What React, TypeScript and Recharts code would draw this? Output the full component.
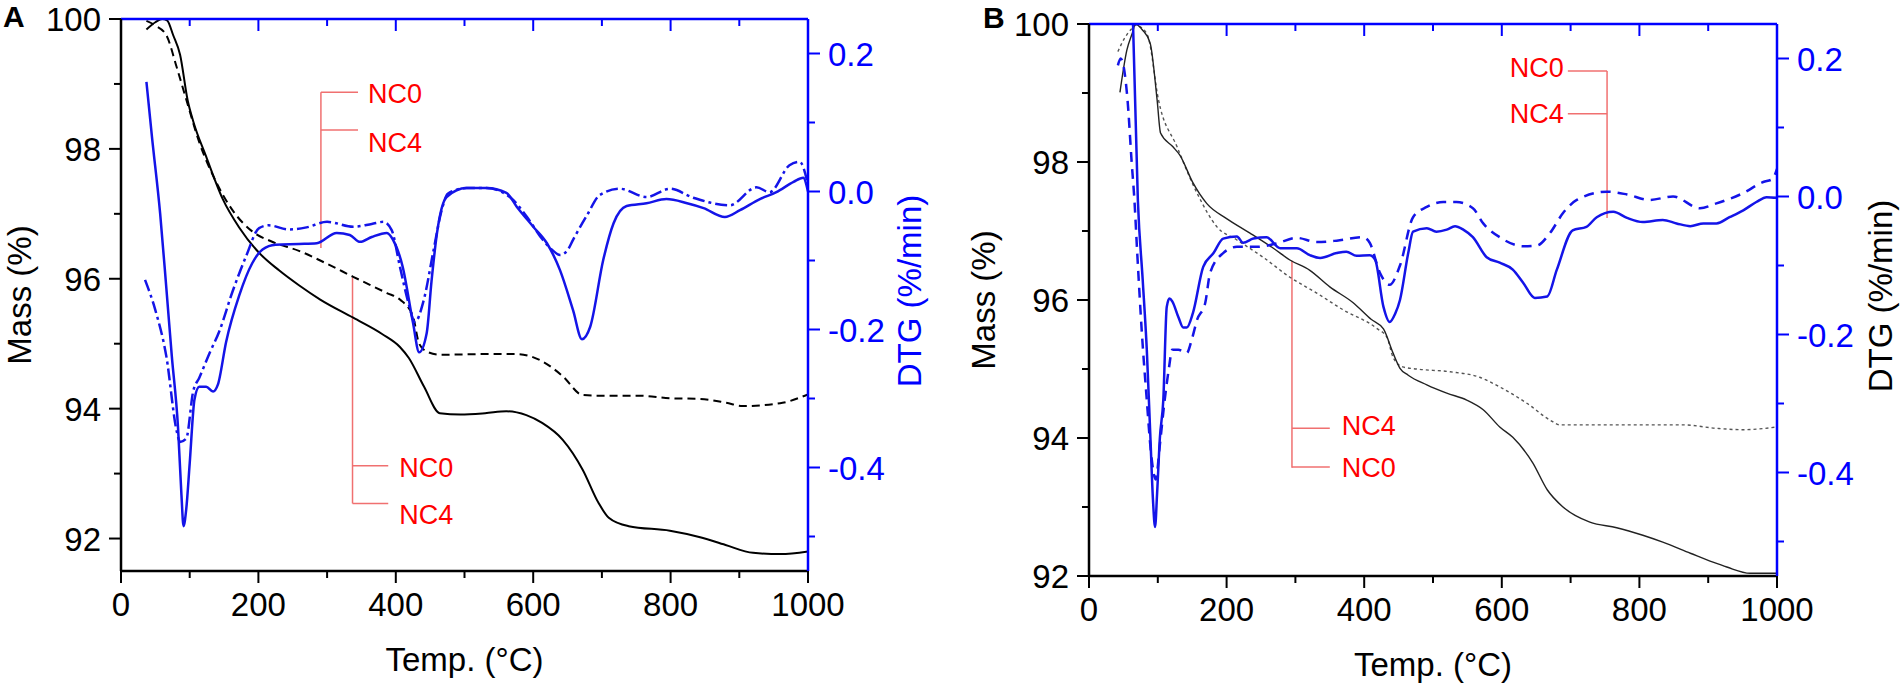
import React from "react";
import { LineChart, Line, XAxis, YAxis, ReferenceLine } from "recharts";

type Pt = [number, number];

// ---- Panel A: [temp °C, value] ----
const A_TG_NC0: Pt[] = [
  [37, 99.84], [50, 99.95], [60, 100], [67, 99.98], [76, 99.75], [86, 99.45], [97, 98.75], [105, 98.43],
  [124, 97.88], [148, 97.23], [172, 96.79], [201, 96.4], [230, 96.13], [259, 95.9], [290, 95.68], [338, 95.4],
  [380, 95.15], [406, 94.95], [419, 94.78], [441, 94.34], [464, 93.93], [494, 93.91], [530, 93.93], [561, 93.96],
  [590, 93.9], [613, 93.78], [643, 93.52], [672, 93.06], [695, 92.55], [710, 92.32], [739, 92.19], [799, 92.12],
  [843, 92.02], [880, 91.9], [920, 91.78], [960, 91.76], [1000, 91.8],
];
const A_TG_NC4: Pt[] = [
  [37, 99.97], [50, 99.9], [66, 99.75], [81, 99.26], [95, 98.76], [114, 98.1], [138, 97.5], [162, 97.06],
  [191, 96.73], [220, 96.57], [259, 96.43], [300, 96.23], [338, 96.03], [387, 95.78], [406, 95.68], [425, 95.42],
  [434, 95.0], [445, 94.88], [464, 94.83], [531, 94.84], [576, 94.84], [613, 94.73], [643, 94.5], [672, 94.21],
  [695, 94.2], [754, 94.2], [799, 94.16], [843, 94.15], [881, 94.09], [905, 94.04], [963, 94.09], [988, 94.17],
  [1000, 94.22],
];
const A_DTG_NC0: Pt[] = [
  [37, 0.159], [45, 0.08], [57, -0.032], [66, -0.14], [74, -0.239], [83, -0.342], [88, -0.44], [91, -0.485],
  [95, -0.46], [100, -0.394], [107, -0.301], [114, -0.283], [124, -0.283], [134, -0.29], [141, -0.28], [153, -0.218],
  [172, -0.151], [191, -0.104], [206, -0.084], [225, -0.077], [259, -0.076], [285, -0.075], [314, -0.06],
  [333, -0.063], [348, -0.073], [365, -0.066], [387, -0.06], [396, -0.07], [410, -0.109], [425, -0.19],
  [434, -0.233], [445, -0.205], [452, -0.13], [460, -0.06], [474, -0.008], [503, 0.005], [532, 0.005],
  [561, -0.002], [576, -0.022], [600, -0.051], [620, -0.075], [639, -0.114], [658, -0.172], [671, -0.214],
  [683, -0.196], [702, -0.099], [717, -0.046], [736, -0.021], [765, -0.017], [794, -0.011], [824, -0.017],
  [848, -0.024], [879, -0.037], [901, -0.027], [930, -0.011], [954, -0.001], [979, 0.014], [993, 0.02], [1000, 0.0],
];
const A_DTG_NC4: Pt[] = [
  [35, -0.128], [50, -0.172], [66, -0.239], [81, -0.347], [86, -0.363], [95, -0.358], [105, -0.29], [114, -0.27],
  [129, -0.234], [143, -0.203], [162, -0.146], [182, -0.094], [201, -0.053], [215, -0.049], [244, -0.055],
  [270, -0.052], [300, -0.044], [338, -0.051], [365, -0.047], [382, -0.044], [394, -0.056], [406, -0.109],
  [418, -0.16], [428, -0.189], [440, -0.16], [455, -0.085], [466, -0.03], [476, -0.003], [503, 0.005], [532, 0.005],
  [566, -0.008], [591, -0.037], [614, -0.07], [628, -0.085], [639, -0.092], [650, -0.085], [658, -0.07],
  [678, -0.035], [697, -0.005], [726, 0.004], [765, -0.008], [799, 0.004], [833, -0.009], [886, -0.02],
  [925, 0.006], [944, -0.001], [973, 0.038], [988, 0.043], [1000, 0.01],
];

// ---- Panel B ----
const B_TG_NC0: Pt[] = [
  [45, 99.01], [55, 99.62], [64, 99.9], [67, 100], [78, 99.91], [89, 99.72], [99, 98.9], [104, 98.42],
  [122, 98.22], [132, 98.1], [151, 97.7], [171, 97.4], [200, 97.18], [234, 96.97], [268, 96.75], [292, 96.58],
  [321, 96.43], [350, 96.19], [384, 95.96], [410, 95.72], [428, 95.58], [442, 95.23], [452, 95.01], [464, 94.91],
  [491, 94.77], [520, 94.65], [549, 94.55], [573, 94.41], [597, 94.16], [616, 94.01], [645, 93.64], [666, 93.25],
  [689, 93.0], [728, 92.78], [767, 92.7], [805, 92.59], [834, 92.49], [874, 92.33], [907, 92.2], [927, 92.13],
  [961, 92.04], [1000, 92.04],
];
const B_TG_NC4: Pt[] = [
  [42, 99.6], [52, 99.8], [62, 99.93], [68, 99.98], [76, 99.95], [86, 99.81], [101, 98.9], [128, 98.22],
  [157, 97.55], [186, 97.06], [215, 96.87], [253, 96.62], [292, 96.33], [331, 96.1], [369, 95.86], [418, 95.59],
  [433, 95.46], [442, 95.17], [456, 95.03], [476, 95.0], [525, 94.96], [568, 94.88], [597, 94.74], [637, 94.5],
  [670, 94.26], [685, 94.19], [767, 94.19], [864, 94.19], [912, 94.14], [951, 94.12], [1000, 94.16],
];
const B_DTG_NC0: Pt[] = [
  [64, 0.25], [71, -0.005], [78, -0.12], [84, -0.222], [89, -0.343], [93, -0.44], [96, -0.479], [99, -0.43],
  [103, -0.35], [108, -0.295], [113, -0.16], [117, -0.148], [121, -0.152], [130, -0.175], [137, -0.19],
  [142, -0.19], [151, -0.169], [166, -0.102], [181, -0.082], [195, -0.061], [215, -0.058], [224, -0.067],
  [239, -0.061], [258, -0.059], [278, -0.075], [302, -0.075], [321, -0.085], [336, -0.089], [360, -0.082],
  [374, -0.08], [389, -0.086], [408, -0.085], [416, -0.092], [428, -0.16], [437, -0.182], [445, -0.17],
  [452, -0.15], [464, -0.082], [471, -0.051], [491, -0.046], [505, -0.051], [520, -0.048], [532, -0.043],
  [544, -0.048], [558, -0.059], [578, -0.088], [597, -0.096], [616, -0.106], [631, -0.125], [648, -0.147],
  [666, -0.145], [680, -0.106], [703, -0.049], [723, -0.044], [738, -0.03], [762, -0.022], [782, -0.031],
  [805, -0.037], [834, -0.034], [854, -0.039], [874, -0.043], [893, -0.039], [912, -0.039], [931, -0.03],
  [951, -0.02], [970, -0.008], [985, -0.001], [1000, -0.002],
];
const B_DTG_NC4: Pt[] = [
  [42, 0.19], [46, 0.2], [56, 0.14], [62, 0.05], [66, -0.005], [70, -0.08], [77, -0.2], [84, -0.295],
  [90, -0.37], [97, -0.41], [103, -0.36], [110, -0.295], [116, -0.25], [121, -0.222], [130, -0.222],
  [137, -0.225], [142, -0.227], [150, -0.205], [157, -0.179], [169, -0.154], [176, -0.111], [195, -0.082],
  [215, -0.073], [244, -0.073], [273, -0.068], [302, -0.06], [331, -0.066], [360, -0.064], [398, -0.059],
  [408, -0.067], [423, -0.111], [437, -0.128], [452, -0.1], [471, -0.03], [491, -0.015], [515, -0.008],
  [534, -0.008], [558, -0.017], [573, -0.039], [597, -0.059], [631, -0.072], [651, -0.071], [670, -0.053],
  [689, -0.024], [709, -0.005], [753, 0.007], [782, 0.003], [815, -0.005], [849, 0.0], [888, -0.017],
  [912, -0.01], [951, 0.005], [980, 0.021], [993, 0.025], [1000, 0.04],
];

// ---- ticks ----
const TEMP_TICKS = [0, 100, 200, 300, 400, 500, 600, 700, 800, 900, 1000];
const TOP_TICKS = [100, 200, 300, 400, 500, 600, 700, 800, 900];
const MASS_TICKS = [92, 93, 94, 95, 96, 97, 98, 99, 100];
const DTG_TICKS = [-0.5, -0.4, -0.3, -0.2, -0.1, 0, 0.1, 0.2];

const FONT = "'Liberation Sans', Arial, Helvetica, sans-serif";
const FS = 33;
const AXIS_BLUE = "#0000ff";
const LINE_BLUE = "#1414e8";
const RED = "#ff0000";
const PINK = "#f07070";
const W = 950;
const H = 686;

const toRows = (pts: Pt[]) => pts.map(([t, v]) => ({ t, v }));

function leftTick(L: number) {
  return (p: any) => {
    const v = p.payload.value;
    const major = v % 2 === 0;
    return (
      <g>
        <line x1={L} x2={L - (major ? 12 : 7)} y1={p.y} y2={p.y} stroke="#000" strokeWidth={2} />
        {major && (
          <text x={L - 20} y={p.y + 12} textAnchor="end" fontFamily={FONT} fontSize={FS} fill="#000">{v}</text>
        )}
      </g>
    );
  };
}

function rightTick(R: number) {
  return (p: any) => {
    const v = p.payload.value;
    const major = Math.round(v * 10) % 2 === 0;
    return (
      <g>
        <line x1={R} x2={R + (major ? 12 : 7)} y1={p.y} y2={p.y} stroke={AXIS_BLUE} strokeWidth={2} />
        {major && (
          <text x={R + 20} y={p.y + 12} textAnchor="start" fontFamily={FONT} fontSize={FS} fill={AXIS_BLUE}>
            {v.toFixed(1)}
          </text>
        )}
      </g>
    );
  };
}

function bottomTick(B: number) {
  return (p: any) => {
    const v = p.payload.value;
    const major = v % 200 === 0;
    return (
      <g>
        <line x1={p.x} x2={p.x} y1={B} y2={B + (major ? 12 : 7)} stroke="#000" strokeWidth={2} />
        {major && (
          <text x={p.x} y={B + 45} textAnchor="middle" fontFamily={FONT} fontSize={FS} fill="#000">{v}</text>
        )}
      </g>
    );
  };
}

function topTick(T: number) {
  return (p: any) => {
    const major = p.payload.value % 200 === 0;
    return <line x1={p.x} x2={p.x} y1={T} y2={T + (major ? 12 : 7)} stroke={AXIS_BLUE} strokeWidth={2} />;
  };
}

function nameLabel(text: string, side: "right" | "left", gap: number, dy: number) {
  return (props: any) => {
    const vb = props.viewBox;
    const x = side === "right" ? vb.x + vb.width + gap : vb.x - gap;
    return (
      <text x={x} y={vb.y + dy} textAnchor={side === "right" ? "start" : "end"} fontFamily={FONT} fontSize={27} fill={RED}>
        {text}
      </text>
    );
  };
}

type Seg = { axis: "m" | "d"; x1: number; y1: number; x2: number; y2: number; label?: any };

type PanelCfg = {
  letter: string;
  L: number; R: number; T: number; B: number;
  massDomain: [number, number];
  tg0: Pt[]; tg4: Pt[]; dtg0: Pt[]; dtg4: Pt[];
  thin: boolean;
  dtgTitleColor: string;
  massTitleX: number; dtgTitleX: number; letterX: number; letterY: number; xTitleY: number;
  segs: Seg[];
};

const PANEL_A: PanelCfg = {
  letter: "A", L: 121, R: 808, T: 19, B: 571, massDomain: [91.5, 100],
  tg0: A_TG_NC0, tg4: A_TG_NC4, dtg0: A_DTG_NC0, dtg4: A_DTG_NC4,
  thin: false, dtgTitleColor: AXIS_BLUE,
  massTitleX: 31, dtgTitleX: 921, letterX: 3, letterY: 27, xTitleY: 100,
  segs: [
    { axis: "d", x1: 291, y1: 0.144, x2: 291, y2: -0.082 },
    { axis: "d", x1: 291, y1: 0.144, x2: 345, y2: 0.144, label: nameLabel("NC0", "right", 10, 10.7) },
    { axis: "d", x1: 291, y1: 0.089, x2: 345, y2: 0.089, label: nameLabel("NC4", "right", 10, 21.7) },
    { axis: "m", x1: 337, y1: 96.02, x2: 337, y2: 92.54 },
    { axis: "m", x1: 337, y1: 93.12, x2: 389, y2: 93.12, label: nameLabel("NC0", "right", 11, 11.7) },
    { axis: "m", x1: 337, y1: 92.54, x2: 389, y2: 92.54, label: nameLabel("NC4", "right", 11, 20.7) },
  ],
};

const PANEL_B: PanelCfg = {
  letter: "B", L: 139, R: 827, T: 24, B: 576, massDomain: [92, 100],
  tg0: B_TG_NC0, tg4: B_TG_NC4, dtg0: B_DTG_NC0, dtg4: B_DTG_NC4,
  thin: true, dtgTitleColor: "#000",
  massTitleX: 45, dtgTitleX: 942, letterX: 33, letterY: 28, xTitleY: 100,
  segs: [
    { axis: "d", x1: 753, y1: 0.182, x2: 753, y2: -0.031 },
    { axis: "d", x1: 696, y1: 0.182, x2: 753, y2: 0.182, label: nameLabel("NC0", "left", 4, 5.7) },
    { axis: "d", x1: 696, y1: 0.12, x2: 753, y2: 0.12, label: nameLabel("NC4", "left", 4, 9.7) },
    { axis: "m", x1: 295, y1: 96.57, x2: 295, y2: 93.57 },
    { axis: "m", x1: 295, y1: 94.14, x2: 350, y2: 94.14, label: nameLabel("NC4", "right", 12, 6.7) },
    { axis: "m", x1: 295, y1: 93.58, x2: 350, y2: 93.58, label: nameLabel("NC0", "right", 12, 9.7) },
  ],
};

function PanelChart({ cfg }: { cfg: PanelCfg }) {
  const { L, R, T, B } = cfg;
  const massLabel = (props: any) => {
    const vb = props.viewBox;
    const cy = vb.y + vb.height / 2;
    return (
      <g>
        <text x={cfg.letterX} y={cfg.letterY} fontFamily={FONT} fontSize={30} fontWeight="bold" fill="#000">{cfg.letter}</text>
        <text x={cfg.massTitleX} y={cy} transform={`rotate(-90, ${cfg.massTitleX}, ${cy})`} textAnchor="middle"
          fontFamily={FONT} fontSize={FS} fill="#000">Mass (%)</text>
      </g>
    );
  };
  const dtgLabel = (props: any) => {
    const vb = props.viewBox;
    const cy = vb.y + vb.height / 2 - 4;
    return (
      <text x={cfg.dtgTitleX} y={cy} transform={`rotate(-90, ${cfg.dtgTitleX}, ${cy})`} textAnchor="middle"
        fontFamily={FONT} fontSize={FS} fill={cfg.dtgTitleColor}>DTG (%/min)</text>
    );
  };
  const tempLabel = (props: any) => {
    const vb = props.viewBox;
    return (
      <text x={vb.x + vb.width / 2} y={vb.y + cfg.xTitleY} textAnchor="middle" fontFamily={FONT} fontSize={FS} fill="#000">
        Temp. (°C)
      </text>
    );
  };
  const blackW = cfg.thin ? 1.4 : 2;
  return (
    <LineChart width={W} height={H} margin={{ top: 0, right: 0, bottom: 0, left: 0 }}>
      <XAxis xAxisId="b" type="number" dataKey="t" domain={[0, 1000]} ticks={TEMP_TICKS} interval={0} height={H - B}
        allowDataOverflow axisLine={{ stroke: "#000", strokeWidth: 2.5 }} tickLine={false} tick={bottomTick(B)}
        label={tempLabel} />
      <XAxis xAxisId="top" orientation="top" type="number" dataKey="t" domain={[0, 1000]} ticks={TOP_TICKS} interval={0}
        height={T} allowDataOverflow axisLine={{ stroke: AXIS_BLUE, strokeWidth: 2.5 }} tickLine={false} tick={topTick(T)} />
      <YAxis yAxisId="m" type="number" domain={cfg.massDomain} ticks={MASS_TICKS} interval={0} width={L}
        allowDataOverflow axisLine={{ stroke: "#000", strokeWidth: 2.5 }} tickLine={false} tick={leftTick(L)}
        label={massLabel} />
      <YAxis yAxisId="d" orientation="right" type="number" domain={[-0.55, 0.25]} ticks={DTG_TICKS} interval={0}
        width={W - R} allowDataOverflow axisLine={{ stroke: AXIS_BLUE, strokeWidth: 2.5 }} tickLine={false}
        tick={rightTick(R)} label={dtgLabel} />

      {cfg.segs.map((s, i) => (
        <ReferenceLine key={i} xAxisId="b" yAxisId={s.axis} segment={[{ x: s.x1, y: s.y1 }, { x: s.x2, y: s.y2 }]}
          stroke={PINK} strokeWidth={1.5} ifOverflow="visible" label={s.label} />
      ))}

      <Line xAxisId="b" yAxisId="m" data={toRows(cfg.tg4)} dataKey="v" type="monotone" dot={false} activeDot={false}
        stroke={cfg.thin ? "#555" : "#000"} strokeWidth={blackW} strokeDasharray={cfg.thin ? "3 3" : "8 5"}
        isAnimationActive={false} />
      <Line xAxisId="b" yAxisId="m" data={toRows(cfg.tg0)} dataKey="v" type="monotone" dot={false} activeDot={false}
        stroke={cfg.thin ? "#222" : "#000"} strokeWidth={blackW} isAnimationActive={false} />
      <Line xAxisId="b" yAxisId="d" data={toRows(cfg.dtg4)} dataKey="v" type="monotone" dot={false} activeDot={false}
        stroke={LINE_BLUE} strokeWidth={2.5} strokeDasharray={cfg.thin ? "10 7" : "12 4 3 4"} isAnimationActive={false} />
      <Line xAxisId="b" yAxisId="d" data={toRows(cfg.dtg0)} dataKey="v" type="monotone" dot={false} activeDot={false}
        stroke={LINE_BLUE} strokeWidth={2.5} isAnimationActive={false} />
    </LineChart>
  );
}

export default function App() {
  return (
    <div style={{ position: "absolute", left: 0, top: 0, width: 1900, height: 686, background: "#fff" }}>
      <div style={{ position: "absolute", left: 0, top: 0 }}>
        <PanelChart cfg={PANEL_A} />
      </div>
      <div style={{ position: "absolute", left: 950, top: 0 }}>
        <PanelChart cfg={PANEL_B} />
      </div>
    </div>
  );
}
